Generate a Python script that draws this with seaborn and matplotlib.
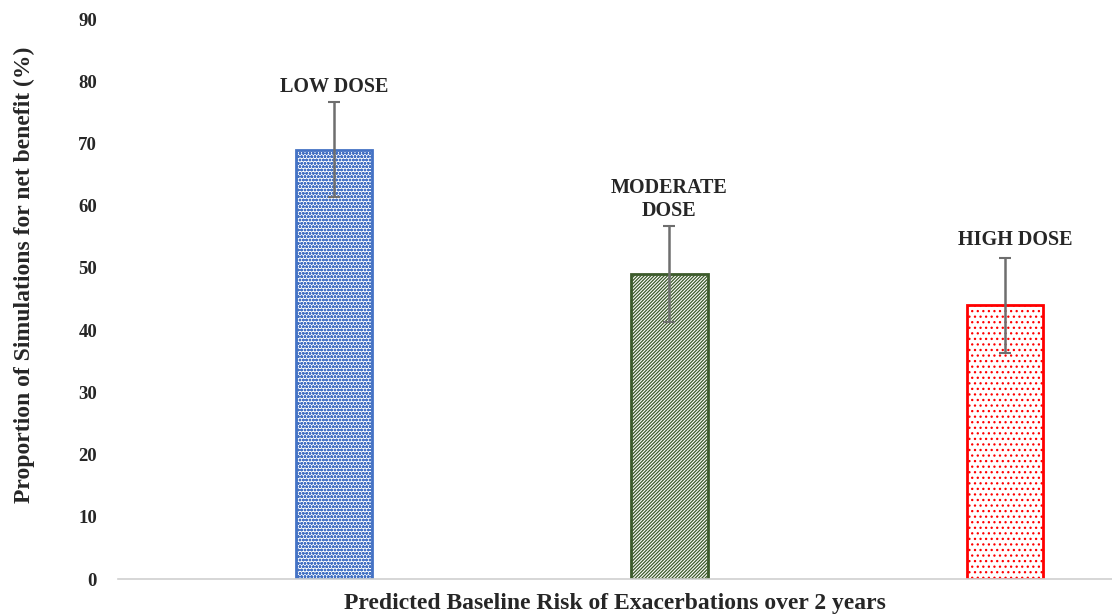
import numpy as np
import pandas as pd
import seaborn as sns
import matplotlib.pyplot as plt

# データ
doses = ['LOW DOSE', 'MODERATE\nDOSE', 'HIGH DOSE']
proportion = [69, 49, 44]
err = [7.6, 7.7, 7.6]
bar_colors = ['#4472C4', '#3B5A2A', '#FF0000']
hatches = ['ooooo', '//////////', '...']

sns.set_theme(style='white')
plt.rcParams['font.family'] = ['Liberation Serif', 'DejaVu Serif']
plt.rcParams['hatch.linewidth'] = 0.9

df = pd.DataFrame({'dose': doses, 'prop': proportion})

fig = plt.figure(figsize=(11.12, 6.14), dpi=100)
ax = fig.add_axes([0.106, 0.057, 0.894, 0.912])

sns.barplot(data=df, x='dose', y='prop', ax=ax, width=0.227,
            color='white', errorbar=None)
for p, c, h in zip(ax.patches, bar_colors, hatches):
    p.set_facecolor('white')
    p.set_edgecolor(c)
    p.set_hatch(h)
    p.set_linewidth(2)

x = np.arange(len(doses))
ax.errorbar(x, proportion, yerr=err, fmt='none', ecolor='#6E6E6E',
            elinewidth=1.8, capsize=4, capthick=1.5)

# ラベル
label_y = [79.1, 61.0, 54.5]
label_dx = [0, 0, 0.03]
for i, (lab, ly) in enumerate(zip(doses, label_y)):
    ax.text(x[i] + label_dx[i], ly, lab, ha='center', va='center',
            fontsize=14.5, fontweight='bold', linespacing=1.15)

ax.set_xlim(-0.644, 2.319)
ax.set_ylim(0, 90)
ax.set_yticks(range(0, 91, 10))
ax.set_xticks([])
ax.tick_params(axis='y', length=0, labelsize=13.5, pad=15)
for t in ax.get_yticklabels():
    t.set_fontweight('bold')
for s in ['left', 'right', 'top']:
    ax.spines[s].set_visible(False)
ax.spines['bottom'].set_color('#D0D0D0')
ax.spines['bottom'].set_linewidth(1.2)

ax.set_xlabel('Predicted Baseline Risk of Exacerbations over 2 years',
              fontsize=17, fontweight='bold', labelpad=10)
ax.set_ylabel('Proportion of Simulations for net benefit (%)',
              fontsize=17, fontweight='bold')
ax.yaxis.set_label_coords(-0.083, 0.543)

fig.savefig('out.png', dpi=100)
